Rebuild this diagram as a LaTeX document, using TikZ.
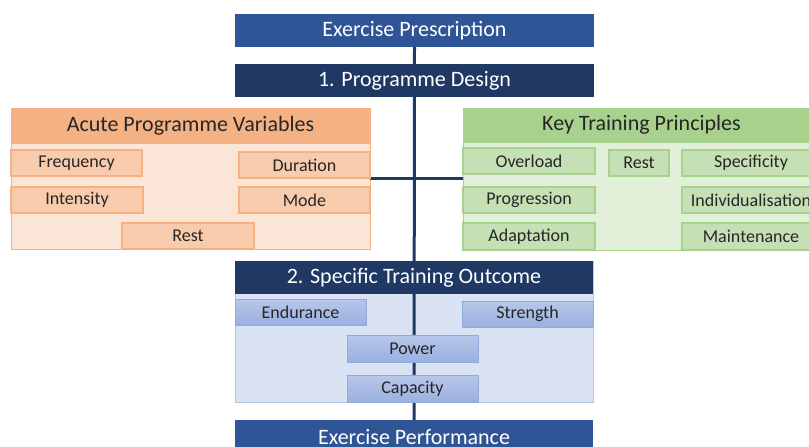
\documentclass[tikz,border=0pt]{standalone}
\usepackage{fontspec}
\setmainfont{Carlito}
\usetikzlibrary{positioning}
\definecolor{navy}{HTML}{1F3864}
\definecolor{midblue}{HTML}{2F5597}
\definecolor{orhead}{HTML}{F4B183}
\definecolor{orbg}{HTML}{FBE5D6}
\definecolor{oritem}{HTML}{F8CBAD}
\definecolor{orline}{HTML}{F4B183}
\definecolor{grhead}{HTML}{A9D18E}
\definecolor{grbg}{HTML}{E2F0D9}
\definecolor{gritem}{HTML}{C5E0B4}
\definecolor{grline}{HTML}{A9D18E}
\definecolor{blbg}{HTML}{DAE3F3}
\definecolor{blline}{HTML}{B4C7E7}
\definecolor{blitemA}{HTML}{B8C7EA}
\definecolor{blitemB}{HTML}{9AB0E0}
\definecolor{blitemline}{HTML}{8FAADC}
\definecolor{txt}{HTML}{262626}
\tikzset{
  bx/.style 2 args={anchor=north west, inner sep=0pt, outer sep=0pt,
    minimum width=#1, minimum height=#2},
  bigtxt/.style={font=\fontsize{22}{26}\selectfont},
  smalltxt/.style={font=\fontsize{18}{21}\selectfont, text=txt},
  bluebar/.style={fill=midblue, draw=none, text=white, bigtxt},
  navybar/.style={fill=navy, draw=none, text=white, bigtxt},
  orgrp/.style={fill=orbg, draw=orline, line width=1pt},
  orhd/.style={fill=orhead, draw=orline, line width=1pt, bigtxt, text=txt},
  oritm/.style={fill=oritem, draw=orline, line width=1.2pt, smalltxt},
  grgrp/.style={fill=grbg, draw=grline, line width=1pt},
  grhd/.style={fill=grhead, draw=grline, line width=1pt, bigtxt, text=txt},
  gritm/.style={fill=gritem, draw=grline, line width=1.2pt, smalltxt},
  blgrp/.style={fill=blbg, draw=blline, line width=1pt},
  blitm/.style={top color=blitemA, bottom color=blitemB, draw=blitemline, line width=1pt, smalltxt},
  spine/.style={draw=navy, line width=3pt}
}
\begin{document}
\begin{tikzpicture}[x=1pt,y=-1pt]
\useasboundingbox (0,0) rectangle (809,447);
% groups (backgrounds)
\node[bx={359pt}{141pt}, orgrp] (acutegrp) at (11,108) {};
\node[bx={357pt}{142pt}, grgrp] (keygrp) at (463,108) {};
\node[bx={358pt}{141pt}, blgrp] (outgrp) at (235,261) {};
% top and bottom bars
\node[bx={359pt}{33pt}, bluebar] (pres) at (235,14) {Exercise Prescription};
\node[bx={358pt}{34pt}, bluebar] (perf) at (235,420) {Exercise Performance};
% spine connectors
\draw[spine] (pres.south) -- (perf.north);
\coordinate (hy) at (413,178);
\draw[spine] (acutegrp.east |- hy) -- (keygrp.west |- hy);
% navy bars
\node[bx={359pt}{33pt}, navybar] (design) at (235,64) {1. Programme Design};
\node[bx={358pt}{33pt}, navybar] (outcome) at (235,261) {2. Specific Training Outcome};
% acute programme variables
\node[bx={359pt}{35pt}, orhd] (acutehd) at (11,108) {Acute Programme Variables};
\node[bx={131pt}{26pt}, oritm] (freq) at (11,150) {Frequency};
\node[bx={131pt}{26pt}, oritm] (dur) at (239,152) {Duration};
\node[bx={132pt}{26pt}, oritm] (inten) at (11,187) {Intensity};
\node[bx={131pt}{26pt}, oritm] (mode) at (239,187) {Mode};
\node[bx={132pt}{26pt}, oritm] (resta) at (122,223) {Rest};
% key training principles
\node[bx={357pt}{34pt}, grhd] (keyhd) at (463,108) {Key Training Principles};
\node[bx={132pt}{26pt}, gritm] (over) at (463,148) {Overload};
\node[bx={60pt}{26pt}, gritm] (restb) at (609,150) {Rest};
\node[bx={138pt}{26pt}, gritm] (spec) at (682,150) {Specificity};
\node[bx={132pt}{26pt}, gritm] (prog) at (463,187) {Progression};
\node[bx={138pt}{26pt}, gritm] (indiv) at (682,187) {Individualisation};
\node[bx={132pt}{27pt}, gritm] (adapt) at (463,223) {Adaptation};
\node[bx={138pt}{27pt}, gritm] (maint) at (682,223) {Maintenance};
% specific training outcome
\node[bx={131pt}{26pt}, blitm] (endur) at (235,299) {Endurance};
\node[bx={131pt}{26pt}, blitm] (strength) at (462,301) {Strength};
\node[bx={131pt}{27pt}, blitm] (power) at (347,335) {Power};
\node[bx={131pt}{27pt}, blitm] (capacity) at (347,375) {Capacity};
\end{tikzpicture}
\end{document}
